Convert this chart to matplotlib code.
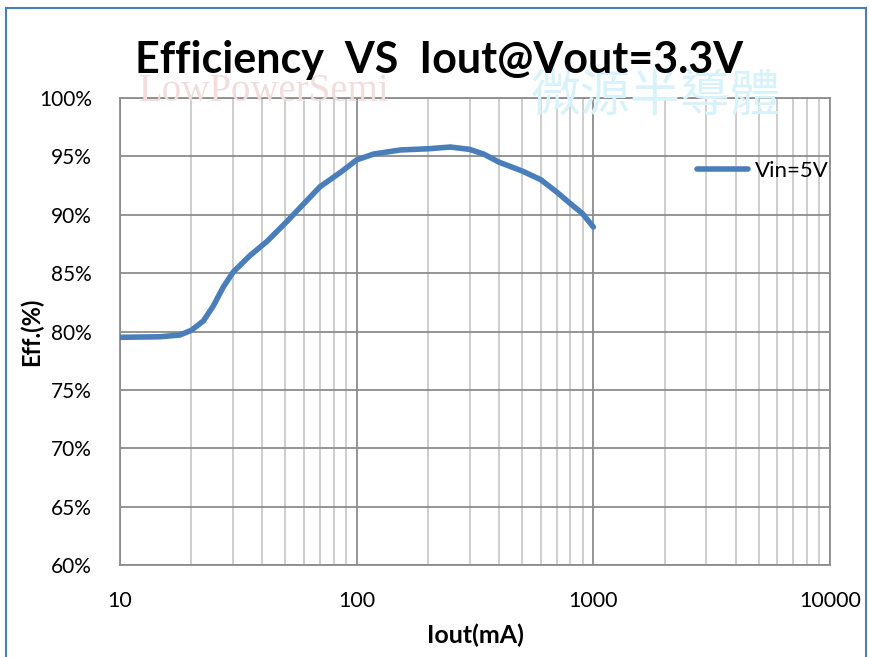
import matplotlib
matplotlib.use("Agg")
import matplotlib.pyplot as plt
from matplotlib.ticker import FixedLocator, LogLocator, NullFormatter, FuncFormatter
from matplotlib.patches import Rectangle

# data
iout_ma = [10, 14.8, 17.9, 20, 22.5, 24.8, 27.3, 30.1, 35.4, 41.7, 50.6, 70, 85.7,
           100, 118, 153, 200, 249, 300, 344, 400, 500, 600, 700, 800, 900, 1000]
eff_pct = [79.5, 79.55, 79.7, 80.1, 80.9, 82.2, 83.8, 85.1, 86.5, 87.7, 89.4, 92.4, 93.65,
           94.7, 95.2, 95.55, 95.65, 95.8, 95.6, 95.2, 94.5, 93.75, 93.0, 91.95, 90.95, 90.1, 88.95]
series_name = "Vin=5V"
y_ticks = [60, 65, 70, 75, 80, 85, 90, 95, 100]
x_ticks = [10, 100, 1000, 10000]

plt.rcParams['font.family'] = ['Lato', 'DejaVu Sans']

fig = plt.figure(figsize=(8.7, 6.57), dpi=100)
ax = fig.add_axes([120 / 870, 1 - 565 / 657, 710 / 870, 467 / 657])
ax.patch.set_alpha(0)

# faint watermark behind the title
fig.text(0.16, 0.847, "LowPowerSemi", fontsize=28, color="#f2dcdc",
         family="Liberation Serif", zorder=0)
fig.text(0.61, 0.832, "微源半導體", fontsize=36, color="#d8f2fb",
         family=["Noto Sans CJK TC", "DejaVu Sans"], zorder=0)

ax.plot(iout_ma, eff_pct, color="#4a7ebb", lw=4, solid_capstyle="round",
        solid_joinstyle="round", label=series_name, zorder=3)

ax.set_xscale("log")
ax.set_xlim(10, 10000)
ax.set_ylim(60, 100)
ax.xaxis.set_major_locator(FixedLocator(x_ticks))
ax.xaxis.set_minor_locator(LogLocator(base=10, subs=range(2, 10)))
ax.xaxis.set_minor_formatter(NullFormatter())
ax.xaxis.set_major_formatter(FuncFormatter(lambda v, p: f"{int(v)}"))
ax.yaxis.set_major_locator(FixedLocator(y_ticks))
ax.yaxis.set_major_formatter(FuncFormatter(lambda v, p: f"{int(v)}%"))

ax.grid(which="major", color="#8c8c8c", lw=1.3)
ax.grid(which="minor", axis="x", color="#c0c0c0", lw=1.1)
ax.set_axisbelow(True)
for s in ax.spines.values():
    s.set_color("#8c8c8c")
    s.set_linewidth(1.3)

ax.tick_params(which="both", length=0)
ax.tick_params(axis="y", pad=20, labelsize=15)
ax.tick_params(axis="x", pad=19, labelsize=15.5)

ax.set_xlabel("Iout(mA)", fontsize=18, fontweight="bold", labelpad=9)
ax.set_ylabel("Eff.(%)", fontsize=17, fontweight="bold")
ax.yaxis.set_label_coords(-0.108, 0.5)

fig.text(0.505, 0.908, "Efficiency  VS  Iout@Vout=3.3V", fontsize=31,
         fontweight="bold", ha="center", va="center", zorder=5)

ax.legend(loc="upper left", bbox_to_anchor=(0.8, 0.885), frameon=False,
          fontsize=16, handlelength=2.3, handletextpad=0.3, borderaxespad=0)

# blue frame around the chart
fig.patches.append(Rectangle((6 / 870, -0.01), 860 / 870, 1 - 8 / 657 + 0.01,
                             transform=fig.transFigure, fill=False,
                             edgecolor="#4a7ebb", lw=1.5))

fig.savefig("out.png", dpi=100)
